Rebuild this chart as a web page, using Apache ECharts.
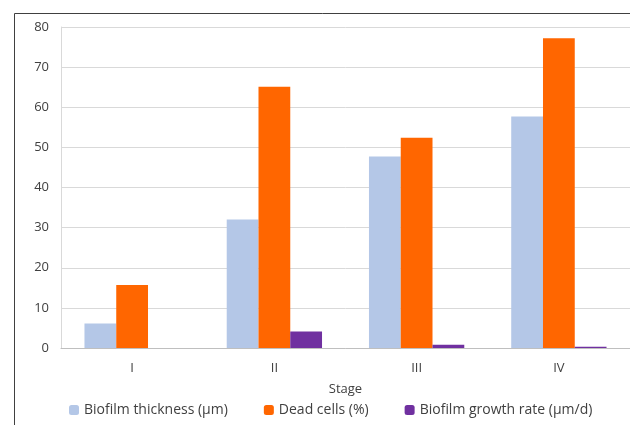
<!DOCTYPE html>
<html><head><meta charset="utf-8">
<script src="https://cdn.jsdelivr.net/npm/echarts@6/dist/echarts.min.js"></script>
<style>html,body{margin:0;padding:0;background:#fff}#c{width:630px;height:425px}</style>
</head><body><div id="c"></div>
<script>
const categories = ['I', 'II', 'III', 'IV'];
const thickness = [6.1, 32, 47.7, 57.7];
const deadCells = [15.7, 65.1, 52.4, 77.2];
const growthRate = [0, 4.1, 0.8, 0.3];
const yTicks = { min: 0, max: 80, interval: 10 };

const font = '"Open Sans", "Noto Sans", sans-serif';
const chart = echarts.init(document.getElementById('c'));
chart.setOption({
  animation: false,
  backgroundColor: '#fff',
  graphic: [{
    type: 'rect', left: 12, top: 11, shape: { width: 640, height: 440 },
    style: { fill: 'none', stroke: '#404040', lineWidth: 1 }, silent: true
  }],
  grid: { left: 61, right: -3, top: 27, bottom: 77 },
  legend: {
    bottom: 3, left: 64, itemWidth: 10, itemHeight: 10, itemGap: 36,
    textStyle: { fontFamily: font, fontSize: 14, color: '#404040' },
    data: ['Biofilm thickness (µm)', 'Dead cells (%)', 'Biofilm growth rate (µm/d)']
  },
  xAxis: {
    type: 'category', data: categories,
    name: 'Stage', nameLocation: 'middle', nameGap: 35,
    nameTextStyle: { fontFamily: font, fontSize: 13, color: '#404040' },
    axisTick: { show: false },
    axisLine: { lineStyle: { color: '#BFBFBF', width: 1 } },
    axisLabel: { fontFamily: font, fontSize: 13, color: '#404040', margin: 14 }
  },
  yAxis: {
    type: 'value', min: yTicks.min, max: yTicks.max, interval: yTicks.interval,
    axisLine: { show: true, lineStyle: { color: '#D9D9D9' } },
    axisTick: { show: false },
    splitLine: { lineStyle: { color: '#D9D9D9', width: 1 } },
    axisLabel: { fontFamily: font, fontSize: 13, color: '#404040', margin: 12 }
  },
  series: [
    { name: 'Biofilm thickness (µm)', type: 'bar', data: thickness, itemStyle: { color: '#B4C7E7' }, barGap: '0%', barCategoryGap: '33%' },
    { name: 'Dead cells (%)', type: 'bar', data: deadCells, itemStyle: { color: '#FF6600' } },
    { name: 'Biofilm growth rate (µm/d)', type: 'bar', data: growthRate, itemStyle: { color: '#7030A0' } }
  ]
});
</script></body></html>
